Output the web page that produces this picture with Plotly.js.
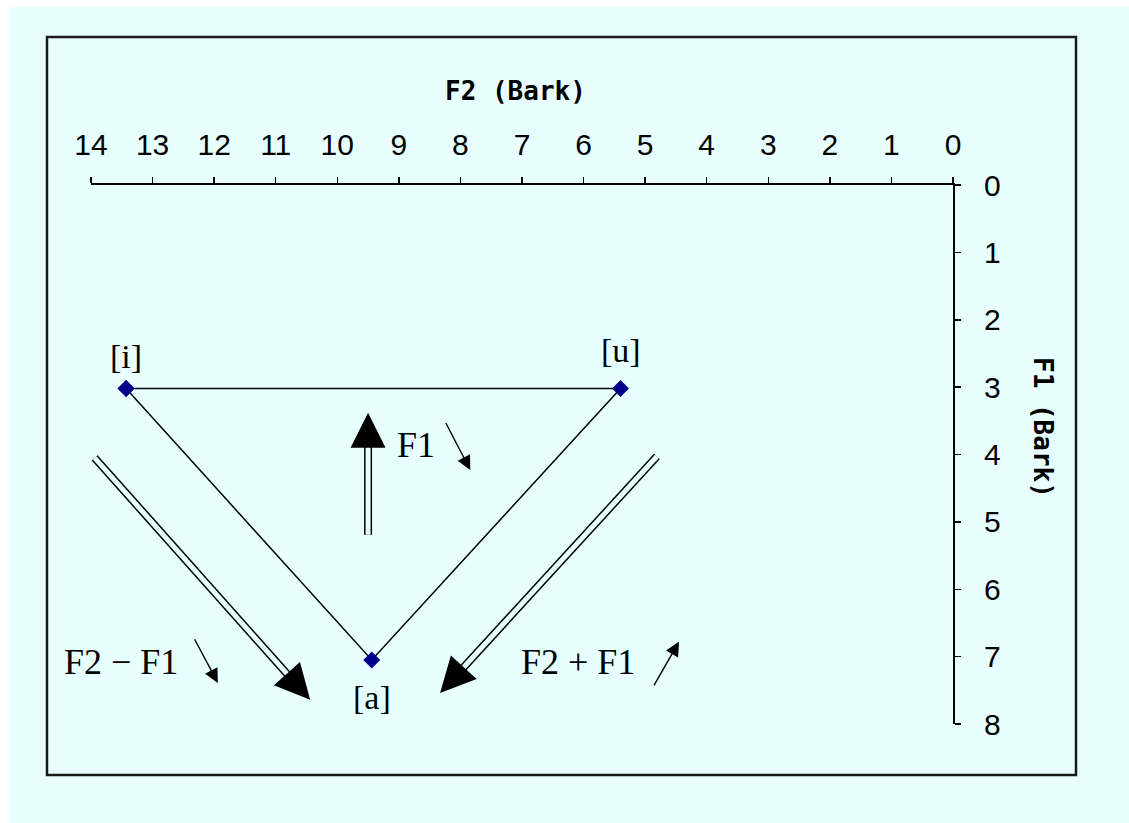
<!DOCTYPE html>
<html><head><meta charset="utf-8">
<script src="https://cdn.plot.ly/plotly-3.0.1.min.js"></script>
<style>html,body{margin:0;padding:0;background:#fff;}#chart{width:1129px;height:823px;}</style>
</head><body><div id="chart"></div>
<script>
// ---- data ----
const vowels = ['[i]', '[u]', '[a]'];
const f2Bark = [13.43, 5.4, 9.44];
const f1Bark = [3.02, 3.02, 7.05];
const xTickVals = [0, 1, 2, 3, 4, 5, 6, 7, 8, 9, 10, 11, 12, 13, 14];
const yTickVals = [0, 1, 2, 3, 4, 5, 6, 7, 8];

// double-shafted arrows (tail -> tip)
const bigTailF2 = [13.94, 4.81, 9.5];
const bigTailF1 = [4.05, 4.03, 5.19];
const bigTipF2 = [10.44, 8.33, 9.5];
const bigTipF1 = [7.64, 7.54, 3.38];

// small trend arrows (tail -> tip)
const smallTailF2 = [12.33, 8.25, 4.87];
const smallTailF1 = [6.72, 3.51, 7.45];
const smallTipF2 = [11.94, 7.84, 4.45];
const smallTipF1 = [7.39, 4.23, 6.78];

// notes
const noteTexts = ['F2 \u2212 F1', 'F1', 'F2 + F1'];
const noteF2 = [13.51, 8.72, 6.09];
const noteF1 = [7.08, 3.86, 7.08];

// ---- layout geometry ----
const W = 1129, H = 823;
const M = {l: 91, r: 176, t: 185, b: 99};
const PW = W - M.l - M.r, PH = H - M.t - M.b;
const pxPerX = PW / 14, pxPerY = PH / 8;
const px2paperX = p => (p - M.l) / PW;
const px2paperY = p => (H - M.b - p) / PH;
const BG = '#e8ffff';
const serif = 'Liberation Serif, Times New Roman, serif';
const tickFont = {family: 'Liberation Sans, Arial, sans-serif', size: 30, color: '#000'};
const titleFont = {family: 'DejaVu Sans Mono, monospace', size: 26, color: '#000', weight: 'bold'};

const order = [0, 1, 2, 0];
const trace = {
  type: 'scatter',
  mode: 'lines+markers',
  x: order.map(i => f2Bark[i]),
  y: order.map(i => f1Bark[i]),
  line: {color: '#000', width: 1.5},
  marker: {symbol: 'diamond', size: 13, color: '#00008b'},
  hoverinfo: 'skip',
  showlegend: false
};

const shapes = [
  {type: 'rect', xref: 'paper', yref: 'paper', layer: 'below',
   x0: px2paperX(9), x1: px2paperX(1140), y0: px2paperY(7), y1: px2paperY(830),
   fillcolor: BG, line: {width: 0}},
  {type: 'rect', xref: 'paper', yref: 'paper', layer: 'above',
   x0: px2paperX(47), x1: px2paperX(1076), y0: px2paperY(37), y1: px2paperY(775),
   fillcolor: 'rgba(0,0,0,0)', line: {color: '#1a1a1a', width: 2.5}}
];
const annotations = [];
bigTailF2.forEach((_, k) => {
  const dx = (bigTailF2[k] - bigTipF2[k]) * -pxPerX;
  const dy = (bigTailF1[k] - bigTipF1[k]) * pxPerY;
  const len = Math.hypot(dx, dy);
  const f = 20 / len; // shaft stops inside the arrowhead
  const endF2 = bigTipF2[k] + (bigTailF2[k] - bigTipF2[k]) * f;
  const endF1 = bigTipF1[k] + (bigTailF1[k] - bigTipF1[k]) * f;
  shapes.push({type: 'line', xref: 'x', yref: 'y', x0: bigTailF2[k], y0: bigTailF1[k],
    x1: endF2, y1: endF1, line: {color: '#000', width: 8}});
  shapes.push({type: 'line', xref: 'x', yref: 'y', x0: bigTailF2[k], y0: bigTailF1[k],
    x1: endF2, y1: endF1, line: {color: BG, width: 5}});
  annotations.push({x: bigTipF2[k], y: bigTipF1[k], xref: 'x', yref: 'y', text: '',
    showarrow: true, ax: dx / len * 20, ay: dy / len * 20, arrowhead: 2, arrowwidth: 2,
    arrowsize: 3.5, arrowcolor: '#000', standoff: 0});
});

const labelShift = [32, 38, -38];
vowels.forEach((v, k) => {
  annotations.push({x: f2Bark[k], y: f1Bark[k], xref: 'x', yref: 'y', text: v,
    showarrow: false, yshift: labelShift[k], font: {family: serif, size: 34, color: '#000'}});
});
smallTailF2.forEach((_, k) => {
  annotations.push({x: smallTipF2[k], y: smallTipF1[k], xref: 'x', yref: 'y', text: '',
    showarrow: true, axref: 'x', ayref: 'y', ax: smallTailF2[k], ay: smallTailF1[k],
    arrowhead: 2, arrowwidth: 1.4, arrowsize: 2, arrowcolor: '#000', standoff: 0});
});
noteTexts.forEach((t, k) => {
  annotations.push({x: noteF2[k], y: noteF1[k], xref: 'x', yref: 'y', text: t,
    showarrow: false, font: {family: serif, size: 36, color: '#000'}});
});
annotations.push({xref: 'paper', yref: 'paper', x: px2paperX(515), y: px2paperY(91),
  text: 'F2 (Bark)', showarrow: false, font: titleFont, xanchor: 'center', yanchor: 'middle'});
annotations.push({xref: 'paper', yref: 'paper', x: px2paperX(1043), y: px2paperY(427),
  text: 'F1 (Bark)', showarrow: false, textangle: 90, font: titleFont,
  xanchor: 'center', yanchor: 'middle'});

const axisCommon = {
  showline: true, linecolor: '#000', linewidth: 2, mirror: false,
  ticks: 'outside', ticklen: 6, tickwidth: 1.5, tickcolor: '#000',
  showgrid: false, zeroline: false, tickfont: tickFont, fixedrange: true
};
const layout = {
  width: W, height: H, margin: M,
  paper_bgcolor: '#fff', plot_bgcolor: 'rgba(0,0,0,0)',
  showlegend: false,
  xaxis: Object.assign({}, axisCommon, {range: [14, 0], side: 'top', tickmode: 'array',
    tickvals: xTickVals, ticktext: xTickVals.map(String), ticklabelstandoff: 10}),
  yaxis: Object.assign({}, axisCommon, {range: [8, 0], side: 'right', tickmode: 'array',
    tickvals: yTickVals, ticktext: yTickVals.map(String), ticklabelstandoff: 17}),
  shapes: shapes,
  annotations: annotations
};
Plotly.newPlot('chart', [trace], layout, {displayModeBar: false, staticPlot: true});
</script>
</body></html>
